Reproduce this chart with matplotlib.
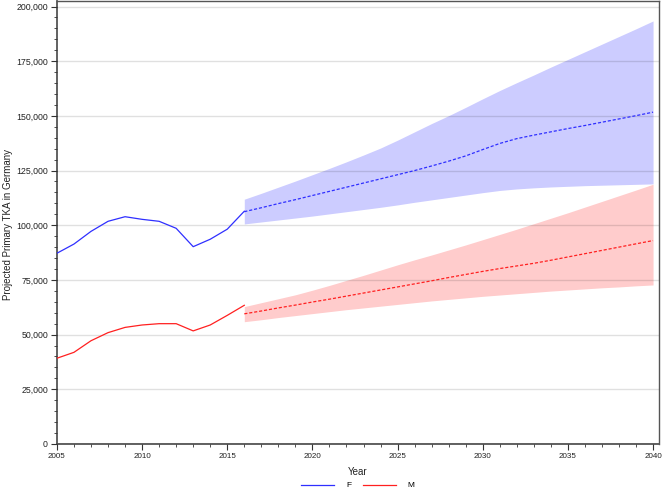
import matplotlib
matplotlib.use("Agg")
import matplotlib.pyplot as plt
from matplotlib.ticker import MultipleLocator, FuncFormatter

plt.rcParams['font.family'] = ['Liberation Sans', 'DejaVu Sans']

# Historical data
hist_years = list(range(2005, 2017))
f_hist = [87200, 91400, 97200, 101800, 103900, 102700, 101800, 98600, 90200, 93600, 98200, 106400]
m_hist = [39200, 41900, 47200, 50900, 53300, 54400, 55000, 55000, 51700, 54400, 58800, 63400]

# Projections
proj_years = list(range(2016, 2041))
f_mean = [106200, 108000, 109900, 111700, 113600, 115500, 117400, 119300, 121200, 123100,
          125000, 127100, 129300, 131700, 134600, 137400, 139600, 141200, 142700, 144200,
          145600, 147100, 148600, 150100, 151700]
f_lower = [100600, 101500, 102400, 103300, 104200, 105200, 106200, 107200, 108200, 109300,
           110500, 111600, 112700, 113800, 114900, 115900, 116600, 117100, 117500, 117800,
           118100, 118300, 118500, 118700, 118900]
f_upper = [111900, 114600, 117400, 120200, 123100, 126000, 129000, 132100, 135300, 138900,
           142700, 146500, 150100, 153900, 157800, 161600, 165200, 168700, 172300, 175800,
           179300, 182800, 186300, 189800, 193400]
m_mean = [59500, 60800, 62200, 63500, 64900, 66200, 67600, 69000, 70400, 71800,
          73200, 74600, 76100, 77500, 78900, 80200, 81400, 82600, 84000, 85500,
          87000, 88500, 90000, 91500, 93000]
m_lower = [55900, 56800, 57800, 58700, 59600, 60500, 61400, 62200, 63000, 63800,
           64600, 65400, 66100, 66800, 67500, 68100, 68700, 69300, 69900, 70400,
           70900, 71400, 71800, 72300, 72700]
m_upper = [62800, 64600, 66400, 68200, 70300, 72500, 74800, 77100, 79500, 81900,
           84200, 86400, 88700, 91000, 93400, 95800, 98200, 100700, 103200, 105700,
           108300, 110900, 113500, 116100, 118750]

labels = ["F", "M"]
f_color = "#2f2fff"
m_color = "#ff2020"
f_band = "#ccccff"
m_band = "#ffcccc"

fig = plt.figure(figsize=(6.62, 4.92), dpi=100)
ax_rect = [0.086, 0.0976, 0.9095, 0.8994]
ax = fig.add_axes(ax_rect)

ax.fill_between(proj_years, f_lower, f_upper, color=f_band, linewidth=0, zorder=1)
ax.fill_between(proj_years, m_lower, m_upper, color=m_band, linewidth=0, zorder=1)

ax.plot(hist_years, f_hist, color=f_color, lw=0.9, label=labels[0], zorder=3)
ax.plot(hist_years, m_hist, color=m_color, lw=0.9, label=labels[1], zorder=3)
ax.plot(proj_years, f_mean, color=f_color, lw=0.9, ls=(0, (2.5, 1.5)), zorder=3)
ax.plot(proj_years, m_mean, color=m_color, lw=0.9, ls=(0, (2.5, 1.5)), zorder=3)

ax.set_xlim(2005, 2040.35)
ax.set_ylim(0, 202300)

ax.xaxis.set_major_locator(MultipleLocator(5))
ax.xaxis.set_minor_locator(MultipleLocator(1))
ax.yaxis.set_major_locator(MultipleLocator(25000))
ax.yaxis.set_minor_locator(MultipleLocator(5000))
ax.yaxis.set_major_formatter(FuncFormatter(lambda v, p: f"{int(v):,}"))

ax.grid(axis='y', which='major', color='#000000', alpha=0.12, lw=1.0, zorder=2)
ax.set_axisbelow(False)

ax.tick_params(axis='both', which='major', length=4, width=0.8, color='#333333', pad=2.5)
ax.tick_params(axis='both', which='minor', length=2, width=0.6, color='#333333')
ax.tick_params(axis='x', labelsize=5.8, labelcolor='#222222')
ax.tick_params(axis='y', labelsize=6.3, labelcolor='#222222')

for side in ['left', 'bottom']:
    ax.spines[side].set_color('#555555')
    ax.spines[side].set_linewidth(1.3)
for side in ['top', 'right']:
    ax.spines[side].set_color('#555555')
    ax.spines[side].set_linewidth(1.0)

ax.set_xlabel("Year", fontsize=7, labelpad=5, color='#222222')
fig.text(8.5 / 662, 1 - 225 / 492, "Projected Primary TKA in Germany", rotation=90,
         fontsize=7, color='#222222', ha='center', va='center')

fig.legend(loc='lower center', bbox_to_anchor=(ax_rect[0] + ax_rect[2] / 2, -0.01), ncol=2,
           frameon=False, fontsize=6, handlelength=4.0, columnspacing=1.4, handletextpad=1.4)

fig.savefig("out.png", dpi=100)
